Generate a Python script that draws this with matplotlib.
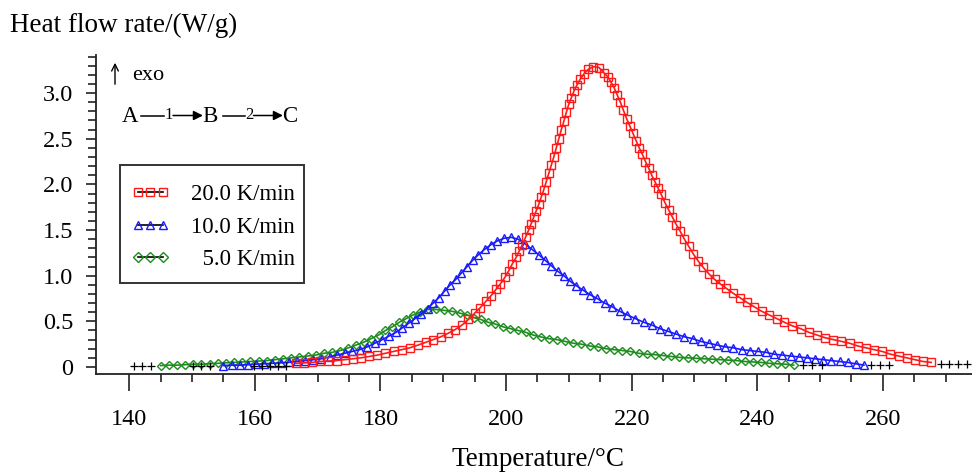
import matplotlib
matplotlib.use('Agg')
import matplotlib.pyplot as plt
from matplotlib.lines import Line2D
from matplotlib.legend_handler import HandlerLine2D
from matplotlib.patches import Rectangle
from matplotlib.ticker import FixedLocator, FuncFormatter, MultipleLocator

plt.rcParams['font.family'] = ['Liberation Serif', 'DejaVu Serif']

# ---- data (temperature in degC, heat flow in W/g) ----
red_T = [166.5, 167.8, 169.1, 170.4, 171.7, 173.0, 174.3, 175.6, 176.9, 178.2,
         179.5, 180.8, 182.1, 183.4, 184.7, 186.0, 187.2, 188.4, 189.6, 190.8,
         191.9, 193.0, 194.0, 195.0, 195.9, 196.8, 197.6, 198.4, 199.1, 199.8,
         200.4, 201.0, 201.6, 202.1, 202.6, 203.1, 203.6, 204.0, 204.4, 204.8,
         205.2, 205.6, 206.0, 206.4, 206.8, 207.2, 207.6, 208.0, 208.4, 208.8,
         209.2, 209.6, 210.0, 210.4, 210.8, 211.3, 211.8, 212.4, 213.1, 213.9,
         214.8, 215.6, 216.2, 216.7, 217.2, 217.7, 218.2, 218.7, 219.2, 219.7,
         220.2, 220.7, 221.2, 221.7, 222.2, 222.7, 223.2, 223.7, 224.2, 224.7,
         225.3, 225.9, 226.5, 227.1, 227.7, 228.4, 229.1, 229.8, 230.6, 231.4,
         232.3, 233.2, 234.1, 235.1, 236.1, 237.2, 238.3, 239.5, 240.7, 241.9,
         243.1, 244.3, 245.6, 246.9, 248.2, 249.5, 250.8, 252.1, 253.4, 254.7,
         256.0, 257.3, 258.6, 259.9, 261.2, 262.5, 263.8, 265.1, 266.4, 267.7]
red_v = [0.04, 0.045, 0.05, 0.06, 0.065, 0.07, 0.08, 0.09, 0.10, 0.115,
         0.13, 0.15, 0.17, 0.19, 0.21, 0.24, 0.27, 0.30, 0.33, 0.37,
         0.41, 0.46, 0.52, 0.59, 0.65, 0.72, 0.78, 0.85, 0.91, 0.98,
         1.05, 1.13, 1.20, 1.27, 1.34, 1.42, 1.50, 1.57, 1.64, 1.71,
         1.78, 1.86, 1.94, 2.03, 2.12, 2.21, 2.30, 2.40, 2.50, 2.60,
         2.69, 2.79, 2.88, 2.95, 3.02, 3.09, 3.15, 3.21, 3.26, 3.29,
         3.28, 3.22, 3.18, 3.12, 3.06, 2.98, 2.90, 2.81, 2.72, 2.64,
         2.56, 2.48, 2.40, 2.33, 2.25, 2.18, 2.10, 2.03, 1.96, 1.89,
         1.80, 1.72, 1.64, 1.56, 1.49, 1.40, 1.32, 1.24, 1.16, 1.09,
         1.02, 0.96, 0.91, 0.86, 0.81, 0.76, 0.71, 0.66, 0.61, 0.57,
         0.53, 0.49, 0.45, 0.42, 0.38, 0.35, 0.32, 0.30, 0.28, 0.26,
         0.23, 0.21, 0.19, 0.17, 0.14, 0.12, 0.10, 0.08, 0.06, 0.05]

blue_T = [155.0, 156.3, 157.6, 158.9, 160.2, 161.5, 162.8, 164.1, 165.4, 166.7,
          168.0, 169.3, 170.6, 171.9, 173.1, 174.3, 175.5, 176.7, 177.9, 179.1,
          180.3, 181.4, 182.5, 183.5, 184.5, 185.5, 186.5, 187.5, 188.4, 189.3,
          190.2, 191.1, 192.0, 192.9, 193.8, 194.7, 195.6, 196.6, 197.6, 198.6,
          199.7, 200.8, 201.9, 203.0, 204.1, 205.2, 206.2, 207.2, 208.2, 209.2,
          210.2, 211.2, 212.3, 213.4, 214.5, 215.7, 216.9, 218.1, 219.3, 220.6,
          221.9, 223.2, 224.5, 225.8, 227.1, 228.4, 229.7, 231.0, 232.3, 233.6,
          234.9, 236.2, 237.5, 238.8, 240.1, 241.4, 242.7, 244.0, 245.3, 246.6,
          247.9, 249.2, 250.5, 251.8, 253.1, 254.4, 255.7, 257.0]
blue_v = [0.015, 0.02, 0.02, 0.025, 0.03, 0.035, 0.04, 0.045, 0.05, 0.06,
          0.07, 0.08, 0.09, 0.11, 0.13, 0.15, 0.17, 0.19, 0.22, 0.26,
          0.30, 0.34, 0.38, 0.43, 0.48, 0.53, 0.58, 0.64, 0.70, 0.76,
          0.83, 0.90, 0.96, 1.03, 1.10, 1.17, 1.23, 1.29, 1.34, 1.38,
          1.41, 1.42, 1.40, 1.35, 1.29, 1.23, 1.17, 1.11, 1.05, 1.00,
          0.94, 0.89, 0.84, 0.79, 0.75, 0.70, 0.66, 0.61, 0.57, 0.53,
          0.49, 0.46, 0.42, 0.39, 0.36, 0.33, 0.31, 0.28, 0.26, 0.24,
          0.22, 0.21, 0.19, 0.18, 0.17, 0.16, 0.14, 0.13, 0.12, 0.11,
          0.10, 0.09, 0.08, 0.07, 0.06, 0.05, 0.035, 0.02]

green_T = [145.0, 146.3, 147.6, 148.9, 150.2, 151.5, 152.8, 154.1, 155.4, 156.7,
           158.0, 159.3, 160.6, 161.9, 163.2, 164.5, 165.8, 167.1, 168.4, 169.7,
           171.0, 172.3, 173.6, 174.9, 176.1, 177.3, 178.5, 179.7, 180.8, 181.9,
           183.0, 184.1, 185.2, 186.3, 187.5, 188.8, 190.1, 191.4, 192.6, 193.8,
           194.9, 196.0, 197.1, 198.3, 199.5, 200.7, 201.9, 203.1, 204.3, 205.5,
           206.8, 208.1, 209.4, 210.7, 212.0, 213.3, 214.6, 215.9, 217.2, 218.5,
           219.8, 221.1, 222.4, 223.7, 225.0, 226.3, 227.6, 228.9, 230.2, 231.5,
           232.8, 234.1, 235.4, 236.7, 238.0, 239.3, 240.6, 241.9, 243.2, 244.5,
           245.8]
green_v = [0.015, 0.02, 0.02, 0.025, 0.03, 0.03, 0.035, 0.04, 0.045, 0.05,
           0.055, 0.06, 0.065, 0.07, 0.08, 0.09, 0.10, 0.11, 0.12, 0.13,
           0.15, 0.16, 0.18, 0.21, 0.24, 0.27, 0.31, 0.35, 0.40, 0.44,
           0.49, 0.53, 0.57, 0.60, 0.63, 0.63, 0.62, 0.61, 0.59, 0.57,
           0.54, 0.52, 0.49, 0.47, 0.44, 0.42, 0.40, 0.38, 0.35, 0.33,
           0.31, 0.30, 0.28, 0.26, 0.25, 0.23, 0.22, 0.20, 0.19, 0.18,
           0.17, 0.15, 0.14, 0.135, 0.125, 0.115, 0.105, 0.10, 0.095, 0.09,
           0.085, 0.08, 0.075, 0.07, 0.06, 0.055, 0.05, 0.04, 0.035, 0.03,
           0.02]

# baseline points (black +)
base_T = [140.8, 142.1, 143.4, 150.2, 151.5, 152.8, 159.8, 161.1, 162.4, 163.7, 165.0,
          247.3, 248.8, 250.3, 258.1, 259.5, 261.0, 269.2, 270.6, 272.0, 273.4]
base_v = [0.015, 0.015, 0.015, 0.015, 0.015, 0.015, 0.015, 0.015, 0.015, 0.015, 0.015,
          0.02, 0.02, 0.02, 0.02, 0.02, 0.02, 0.03, 0.03, 0.03, 0.03]

labels = ['20.0 K/min', '10.0 K/min', '  5.0 K/min']
x_major = [140, 160, 180, 200, 220, 240, 260]
x_minor = [145, 150, 155, 165, 170, 175, 185, 190, 195, 205, 210, 215,
           225, 230, 235, 245, 250, 255, 265, 270]

W, H = 972, 475


def fx(x):
    return x / W


def fy(y):
    return 1 - y / H


fig = plt.figure(figsize=(W / 100, H / 100), dpi=100)
ax = fig.add_axes([fx(96), 101 / H, 876 / W, 319 / H])

c_red, c_blue, c_green = '#ff1a1a', '#1a1aff', '#1e8c1e'

ax.plot(green_T, green_v, color=c_green, lw=1.2, marker='D', ms=4.5,
        mfc='none', mec=c_green, mew=1.0)
ax.plot(blue_T, blue_v, color=c_blue, lw=1.2, marker='^', ms=5.8,
        mfc='none', mec=c_blue, mew=1.0)
ax.plot(red_T, red_v, color=c_red, lw=1.2, marker='s', ms=5.4,
        mfc='none', mec=c_red, mew=1.0)
ax.plot(base_T, base_v, ls='none', marker='+', color='black', ms=5.5, mew=0.9)

ax.set_xlim(134.7, 274.2)
ax.set_ylim(-0.077, 3.417)

for s in ['top', 'right']:
    ax.spines[s].set_visible(False)
for s in ['left', 'bottom']:
    ax.spines[s].set_linewidth(1.3)
    ax.spines[s].set_color('#222222')

ax.xaxis.set_major_locator(FixedLocator(x_major))
ax.xaxis.set_minor_locator(FixedLocator(x_minor))
ax.yaxis.set_major_locator(MultipleLocator(0.5))
ax.yaxis.set_minor_locator(MultipleLocator(0.1))
ax.yaxis.set_major_formatter(FuncFormatter(lambda v, p: '0' if abs(v) < 1e-9 else f'{v:.1f}'))

ax.tick_params(axis='x', which='major', length=12, width=1.2, pad=13,
               labelsize=17.5, color='#222222')
ax.tick_params(axis='x', which='minor', length=6, width=1.2, color='#222222')
ax.tick_params(axis='y', which='major', length=7.5, width=1.2, pad=9,
               labelsize=17.5, color='#222222')
ax.tick_params(axis='y', which='minor', length=5.5, width=1.2, color='#222222')

# axis titles
fig.text(fx(10), fy(32), 'Heat flow rate/(W/g)', fontsize=19.5, va='baseline', ha='left')
fig.text(fx(538), fy(466), 'Temperature/\u00b0C', fontsize=19.5, va='baseline', ha='center')

# exo arrow
ax.annotate('', xy=(fx(115), fy(60)), xytext=(fx(115), fy(87)),
            xycoords='figure fraction', textcoords='figure fraction',
            arrowprops=dict(arrowstyle='->', lw=1.0, color='black', mutation_scale=12))
fig.text(fx(132), fy(80), 'exo', fontsize=16, va='baseline', ha='left')

# reaction scheme A -1-> B -2-> C
ly = 115.5
fig.text(fx(130), fy(122), 'A', fontsize=16.5, va='baseline', ha='center')
fig.text(fx(209.5), fy(122), 'B', fontsize=16.5, va='baseline', ha='center')
fig.text(fx(290), fy(122), 'C', fontsize=16.5, va='baseline', ha='center')
fig.text(fx(168.5), fy(119), '1', fontsize=12, va='baseline', ha='center')
fig.text(fx(249), fy(119), '2', fontsize=12, va='baseline', ha='center')
for x0, x1, x2, x3 in [(141, 164, 173, 203), (223, 244.5, 253.5, 283)]:
    fig.add_artist(plt.Line2D([fx(x0), fx(x1)], [fy(ly), fy(ly)], color='black', lw=1.1,
                              transform=fig.transFigure))
    ax.annotate('', xy=(fx(x3), fy(ly)), xytext=(fx(x2), fy(ly)),
                xycoords='figure fraction', textcoords='figure fraction',
                arrowprops=dict(arrowstyle='-|>', lw=1.1, color='black',
                                mutation_scale=14, shrinkA=0, shrinkB=0))

# legend
handles = [
    Line2D([], [], color='black', lw=1.2, marker='s', ms=5.6, mfc='none', mec=c_red, mew=1.0),
    Line2D([], [], color='black', lw=1.2, marker='^', ms=6.0, mfc='none', mec=c_blue, mew=1.0),
    Line2D([], [], color='black', lw=1.2, marker='D', ms=4.8, mfc='none', mec=c_green, mew=1.0),
]
ax.legend(handles, labels, loc='upper left', bbox_to_anchor=(fx(127), fy(184)),
          bbox_transform=fig.transFigure, frameon=False, borderpad=0, borderaxespad=0,
          handlelength=2.05, handletextpad=0.75, labelspacing=0.5, numpoints=3,
          handler_map={Line2D: HandlerLine2D(marker_pad=0.5, numpoints=3)},
          prop={'family': ['Liberation Serif', 'DejaVu Serif'], 'size': 16.5})
fig.add_artist(Rectangle((fx(120), fy(283)), fx(304) - fx(120), fy(165) - fy(283),
                         transform=fig.transFigure, fill=False, edgecolor='#333333', lw=1.4))

fig.savefig('out.png', dpi=100)
